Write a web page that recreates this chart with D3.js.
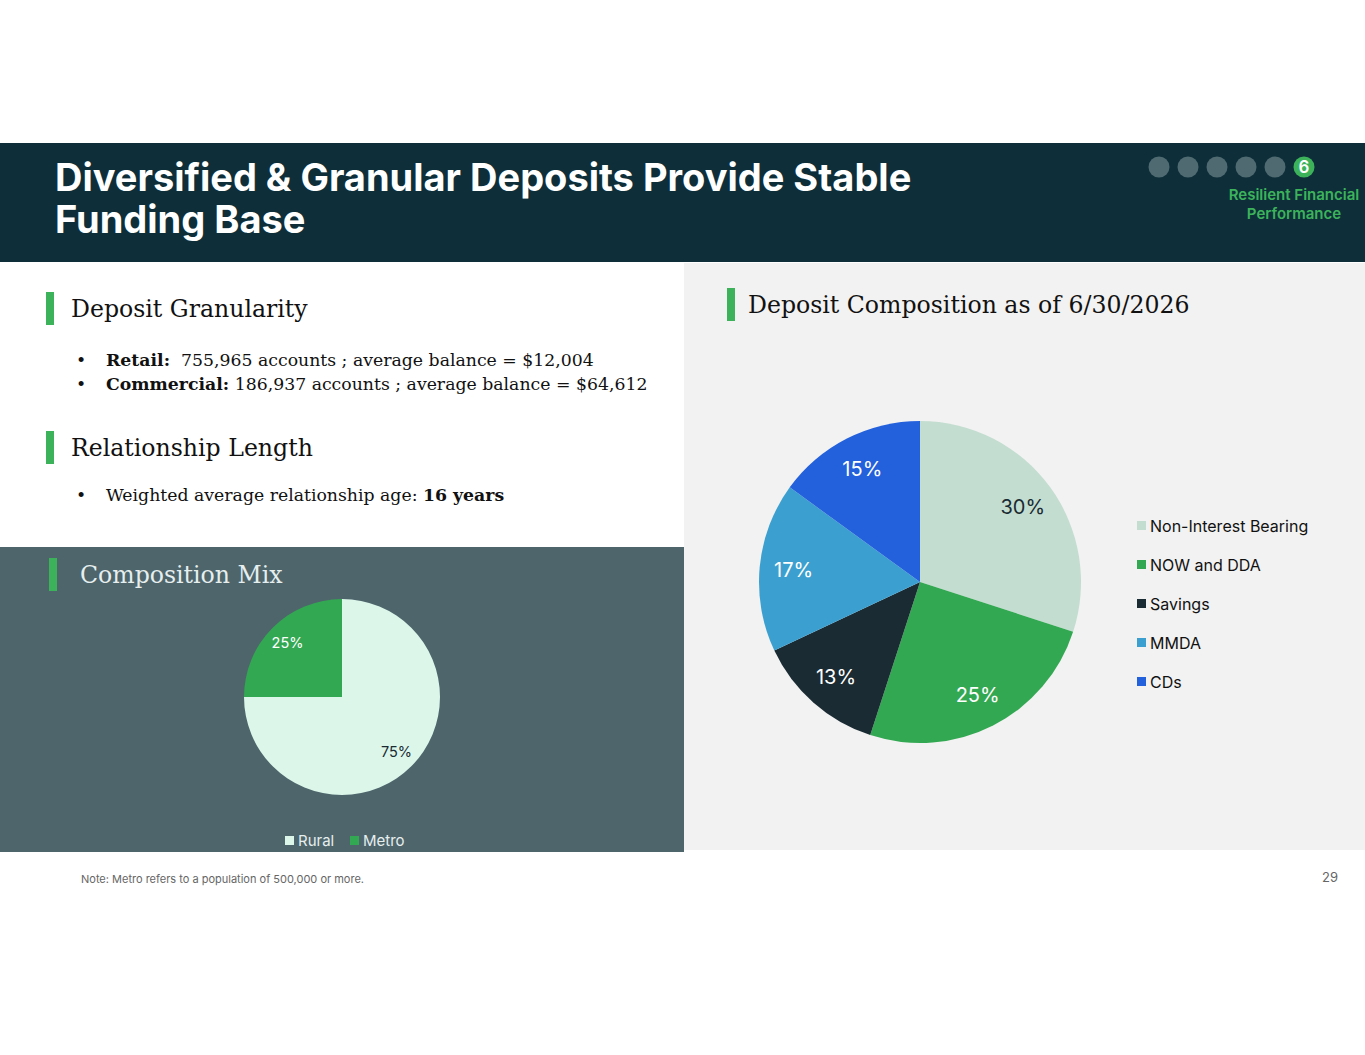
<!DOCTYPE html>
<meta charset="utf-8">
<style>
    body { margin: 0; background: #fff; }
    .serif { font-family: "DejaVu Serif", serif; }
    .sans { font-family: Inter, "Noto Sans", sans-serif; }
</style>
<svg></svg>
<script src="https://d3js.org/d3.v7.min.js"></script>
<script>

    // deposit composition (big pie)
    var depositTypes = ["Non-Interest Bearing", "NOW and DDA", "Savings", "MMDA", "CDs"];
    var depositShares = [30, 25, 13, 17, 15];
    var depositColors = ["#c3ddd0", "#33a852", "#1a2b33", "#3ba0d0", "#2360dc"];
    var depositLabelColors = ["#1a2b33", "#ffffff", "#ffffff", "#ffffff", "#ffffff"];

    // composition mix (small pie)
    var mixTypes = ["Rural", "Metro"];
    var mixShares = [75, 25];
    var mixColors = ["#dcf6ea", "#33a852"];
    var mixLabelColors = ["#1a2b33", "#ffffff"];

    var width = 1365,
        height = 1055;

    var svg = d3.select("svg")
        .attr("width", width)
        .attr("height", height);

    // backgrounds
    svg.append("rect").attr("x", 0).attr("y", 143).attr("width", width).attr("height", 119).attr("fill", "#0e2f3a");
    svg.append("rect").attr("x", 684).attr("y", 263).attr("width", width - 684).attr("height", 587).attr("fill", "#f2f2f2");
    svg.append("rect").attr("x", 0).attr("y", 547).attr("width", 684).attr("height", 305).attr("fill", "#4d656b");

    // title
    var title = svg.append("text")
        .attr("class", "sans")
        .attr("fill", "#fff")
        .attr("font-size", 38)
        .attr("font-weight", 700);
    title.append("tspan").attr("x", 55).attr("y", 191).text("Diversified & Granular Deposits Provide Stable");
    title.append("tspan").attr("x", 55).attr("y", 233).text("Funding Base");

    // progress dots
    var dots = [1, 2, 3, 4, 5, 6];
    svg.selectAll(".dot")
        .data(dots)
        .enter().append("circle")
        .attr("class", "dot")
        .attr("cx", function (d, i) { return 1159 + i * 29; })
        .attr("cy", 167)
        .attr("r", 10.5)
        .attr("fill", function (d) { return d === 6 ? "#3cb35a" : "#4f6a70"; });
    svg.append("text").attr("class", "sans")
        .attr("x", 1304).attr("y", 173).attr("text-anchor", "middle")
        .attr("fill", "#fff").attr("font-size", 17).attr("font-weight", 600).text("6");
    var sect = svg.append("text").attr("class", "sans")
        .attr("text-anchor", "middle").attr("fill", "#3cb35a").attr("font-size", 15).attr("font-weight", 600);
    sect.append("tspan").attr("x", 1294).attr("y", 200).text("Resilient Financial");
    sect.append("tspan").attr("x", 1294).attr("y", 219).text("Performance");

    // section headings
    function heading(x, tx, y, txt, color) {
        svg.append("rect").attr("x", x).attr("y", y - 25).attr("width", 8).attr("height", 33).attr("fill", "#3cb35a");
        svg.append("text").attr("class", "serif")
            .attr("x", tx).attr("y", y)
            .attr("font-size", 23.6)
            .attr("fill", color)
            .text(txt);
    }
    heading(46, 71, 317, "Deposit Granularity", "#111");
    heading(46, 71, 456, "Relationship Length", "#111");
    heading(49, 80, 583, "Composition Mix", "#e6eeee");
    heading(727, 748, 313, "Deposit Composition as of 6/30/2026", "#111");

    // bullets
    var bullets = [
        { y: 366, b: "Retail:", t: "  755,965 accounts ; average balance = $12,004", suffix: false },
        { y: 390, b: "Commercial:", t: " 186,937 accounts ; average balance = $64,612", suffix: false },
        { y: 501, b: "16 years", t: "Weighted average relationship age: ", suffix: true }
    ];
    bullets.forEach(function (d) {
        svg.append("text").attr("class", "serif").attr("x", 76).attr("y", d.y)
            .attr("font-size", 17.3).attr("fill", "#111").text("•");
        var t = svg.append("text").attr("class", "serif").attr("x", 106).attr("y", d.y)
            .attr("font-size", 17.3).attr("fill", "#111").attr("xml:space", "preserve");
        if (d.suffix) {
            t.append("tspan").text(d.t);
            t.append("tspan").attr("font-weight", 700).text(d.b);
        } else {
            t.append("tspan").attr("font-weight", 700).text(d.b);
            t.append("tspan").text(d.t);
        }
    });

    // pie drawing
    function drawPie(cx, cy, r, labelR, names, values, colors, labelColors, fontSize) {
        var g = svg.append("g").attr("transform", "translate(" + cx + "," + cy + ")");
        var pie = d3.pie().sort(null).value(function (d) { return d.value; });
        var data = names.map(function (n, i) { return { name: n, value: values[i], i: i }; });
        var path = d3.arc().outerRadius(r).innerRadius(0);
        var label = d3.arc().outerRadius(labelR).innerRadius(labelR);
        var arc = g.selectAll(".arc")
            .data(pie(data))
            .enter().append("g")
            .attr("class", "arc");
        arc.append("path")
            .attr("d", path)
            .attr("fill", function (d) { return colors[d.data.i]; });
        arc.append("text")
            .attr("class", "sans")
            .attr("transform", function (d) { return "translate(" + label.centroid(d) + ")"; })
            .attr("dy", "0.35em")
            .attr("text-anchor", "middle")
            .attr("font-size", fontSize)
            .attr("fill", function (d) { return labelColors[d.data.i]; })
            .text(function (d) { return d.data.value + "%"; });
    }

    drawPie(920, 582, 161, 127, depositTypes, depositShares, depositColors, depositLabelColors, 20);
    drawPie(342, 697, 98, 77, mixTypes, mixShares, mixColors, mixLabelColors, 14.5);

    // big pie legend
    var legend = svg.selectAll(".legend")
        .data(depositTypes)
        .enter().append("g")
        .attr("class", "legend")
        .attr("transform", function (d, i) { return "translate(1137," + (526 + i * 39) + ")"; });
    legend.append("rect").attr("x", 0).attr("y", -5).attr("width", 9).attr("height", 9)
        .attr("fill", function (d, i) { return depositColors[i]; });
    legend.append("text").attr("class", "sans").attr("x", 13).attr("dy", "0.35em")
        .attr("font-size", 16).attr("fill", "#111").text(function (d) { return d; });

    // small pie legend
    var mixX = [285, 350];
    var mixLegend = svg.selectAll(".mixlegend")
        .data(mixTypes)
        .enter().append("g")
        .attr("class", "mixlegend")
        .attr("transform", function (d, i) { return "translate(" + mixX[i] + ",841)"; });
    mixLegend.append("rect").attr("x", 0).attr("y", -5).attr("width", 9).attr("height", 9)
        .attr("fill", function (d, i) { return mixColors[i]; });
    mixLegend.append("text").attr("class", "sans").attr("x", 13).attr("dy", "0.35em")
        .attr("font-size", 15).attr("fill", "#e6eeee").text(function (d) { return d; });

    // footer
    svg.append("text").attr("class", "sans").attr("x", 81).attr("y", 883)
        .attr("font-size", 11).attr("fill", "#666").text("Note: Metro refers to a population of 500,000 or more.");
    svg.append("text").attr("class", "sans").attr("x", 1338).attr("y", 882).attr("text-anchor", "end")
        .attr("font-size", 13).attr("fill", "#666").text("29");

</script>
